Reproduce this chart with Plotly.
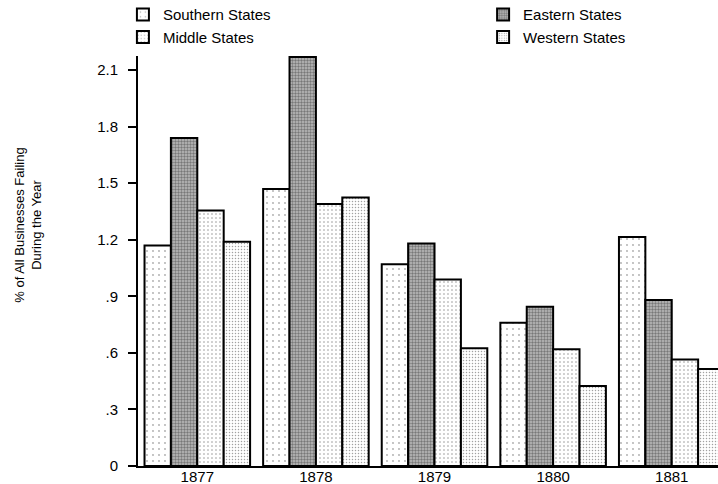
import plotly.graph_objects as go

years = ["1877", "1878", "1879", "1880", "1881"]
southern = [1.17, 1.47, 1.07, 0.76, 1.215]
eastern = [1.74, 2.17, 1.18, 0.845, 0.88]
middle = [1.355, 1.39, 0.99, 0.62, 0.565]
western = [1.19, 1.425, 0.625, 0.425, 0.515]

y_tickvals = [0, 0.3, 0.6, 0.9, 1.2, 1.5, 1.8, 2.1]
y_ticktext = ["0", ".3", ".6", ".9", "1.2", "1.5", "1.8", "2.1"]

series = [
    ("Southern States", southern, "legend", dict(shape=".", size=6, solidity=0.07, fgcolor="#555555", bgcolor="white")),
    ("Eastern States", eastern, "legend2", dict(shape=".", size=3, solidity=0.5, fgcolor="#333333", bgcolor="#bdbdbd")),
    ("Middle States", middle, "legend", dict(shape=".", size=4, solidity=0.12, fgcolor="#222222", bgcolor="white")),
    ("Western States", western, "legend2", dict(shape=".", size=3, solidity=0.2, fgcolor="#444444", bgcolor="white")),
]

FONT = "Liberation Sans, Arial, Helvetica, sans-serif"

fig = go.Figure()
for name, vals, leg, pat in series:
    fig.add_trace(go.Bar(
        x=years, y=vals, name=name, legend=leg,
        marker=dict(color=pat["bgcolor"], line=dict(color="black", width=2), pattern=pat),
    ))

legend_common = dict(
    orientation="v", xanchor="left", yanchor="top",
    font=dict(size=15), itemwidth=30, tracegroupgap=0,
    bgcolor="rgba(0,0,0,0)", traceorder="normal",
)

fig.update_layout(
    width=718, height=484,
    margin=dict(l=138, r=0, t=56, b=18, autoexpand=False),
    paper_bgcolor="white", plot_bgcolor="white",
    barmode="group", bargap=0.11, bargroupgap=0,
    font=dict(family=FONT, size=15, color="black"),
    showlegend=True,
    legend=dict(x=-0.026, y=1.141, **legend_common),
    legend2=dict(x=0.595, y=1.141, **legend_common),
    xaxis=dict(
        range=[-0.5, 4.39], showline=True, linecolor="black", linewidth=2,
        ticks="", showgrid=False, zeroline=False, tickfont=dict(size=15),
        ticklabelstandoff=-4, automargin=False,
    ),
    yaxis=dict(
        range=[0, 2.175], showline=True, linecolor="black", linewidth=2,
        ticks="outside", ticklen=8, tickwidth=2, tickcolor="black",
        tickvals=y_tickvals, ticktext=y_ticktext, showgrid=False, zeroline=False,
        tickfont=dict(size=15), ticklabelstandoff=7, automargin=False,
    ),
    annotations=[dict(
        text="% of All Businesses Failing<br>During the Year",
        xref="paper", yref="paper", x=-0.189, y=0.587,
        xanchor="center", yanchor="middle", textangle=-90, showarrow=False,
        font=dict(size=13, family=FONT),
    )],
)

fig.write_html(
    "out.html",
    config={"displayModeBar": False},
    post_script="document.body.style.margin='0';document.body.style.overflow='hidden';",
)
